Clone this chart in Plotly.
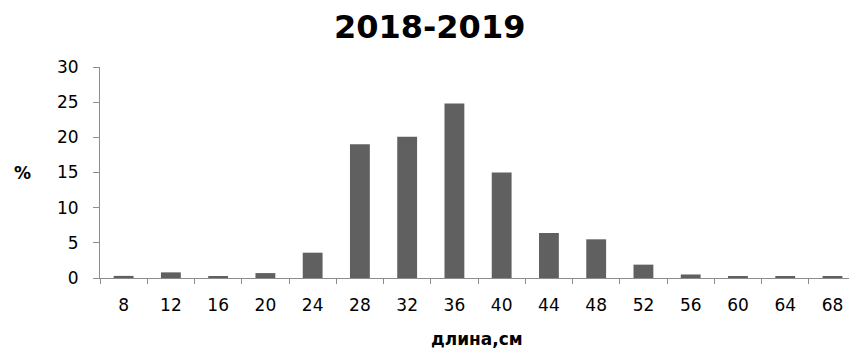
import plotly.graph_objects as go

categories = ["8", "12", "16", "20", "24", "28", "32", "36", "40", "44", "48", "52", "56", "60", "64", "68"]
values = [0.3, 0.8, 0.2, 0.7, 3.6, 19.0, 20.1, 24.8, 15.0, 6.4, 5.5, 1.9, 0.5, 0.2, 0.2, 0.2]
title_text = "2018-2019"
x_title = "длина,см"
y_title = "%"
y_ticks = [0, 5, 10, 15, 20, 25, 30]

fig = go.Figure(go.Bar(x=categories, y=values, marker=dict(color="#606060", line=dict(width=0))))

axis_color = "#8c8c8c"
fig.update_layout(
    width=849, height=349,
    margin=dict(l=100, r=0, t=67, b=71),
    paper_bgcolor="white", plot_bgcolor="white",
    bargap=0.58,
    showlegend=False,
    font=dict(family="DejaVu Sans", color="black"),
    xaxis=dict(
        type="category", range=[-0.5, 15.35],
        showline=True, linecolor=axis_color, linewidth=1,
        ticks="outside", tickson="boundaries", ticklen=5, tickcolor=axis_color,
        tickfont=dict(size=17), showgrid=False, zeroline=False, ticklabelstandoff=12,
    ),
    yaxis=dict(
        range=[0, 30], tickvals=y_ticks,
        showline=True, linecolor=axis_color, linewidth=1,
        ticks="outside", ticklen=6, tickcolor=axis_color,
        tickfont=dict(size=17), showgrid=False, zeroline=False, ticklabelstandoff=11,
    ),
    annotations=[
        dict(text="<b>" + title_text + "</b>", x=429, y=27, showarrow=False, font=dict(size=32)),
        dict(text="<b>" + y_title + "</b>", x=22, y=173, showarrow=False, font=dict(size=17)),
        dict(text="<b>" + x_title + "</b>", x=477, y=339, showarrow=False, font=dict(size=17)),
    ],
)

# Convert pixel positions of annotations to paper coordinates
W, H = 849, 349
l, r, t, b = 100, 0, 67, 71
pw, ph = W - l - r, H - t - b
new_ann = []
for a in fig.layout.annotations:
    px, py = a.x, a.y
    a.x = (px - l) / pw
    a.y = (H - b - py) / ph
    a.xref = "paper"
    a.yref = "paper"
    a.xanchor = "center"
    a.yanchor = "middle"
    new_ann.append(a)
fig.layout.annotations = new_ann

fig.write_html("out.html")
